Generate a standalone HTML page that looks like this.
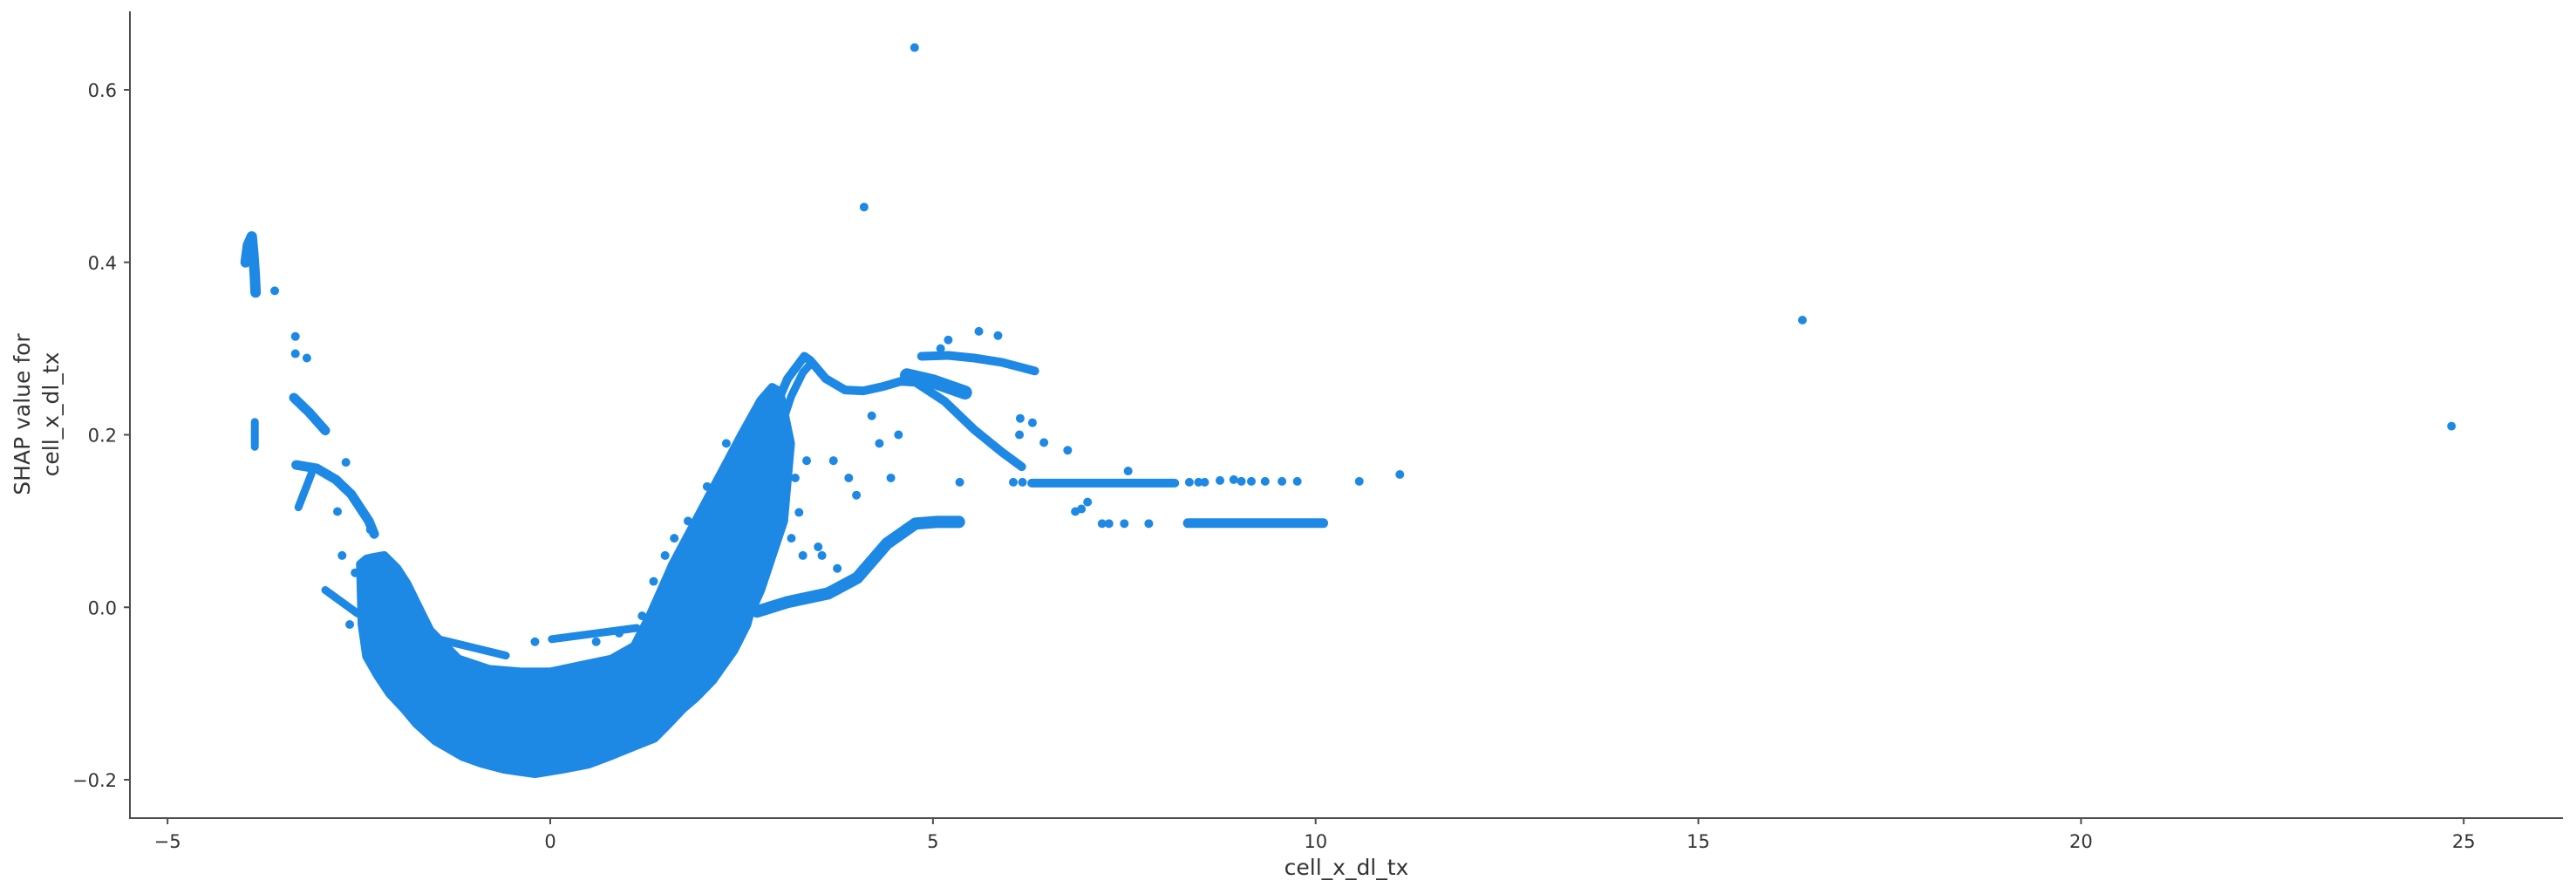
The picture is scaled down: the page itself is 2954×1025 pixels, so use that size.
<!DOCTYPE html>
<html><head><meta charset="utf-8"><style>
html,body{margin:0;padding:0;background:#fff}
svg{display:block}
text{font-family:"DejaVu Sans","Liberation Sans",sans-serif;fill:#333}
</style></head><body>
<svg id="chart" width="2954" height="1025" viewBox="0 0 2954 1025" xmlns="http://www.w3.org/2000/svg">
<g id="marks"></g>
<g id="axes"></g>
</svg>
<script>
// ---- data ----
const xTicks = [-5, 0, 5, 10, 15, 20, 25];
const yTicks = [-0.2, 0.0, 0.2, 0.4, 0.6];
const yTickLabels = ["\u22120.2", "0.0", "0.2", "0.4", "0.6"];
// dense core cloud outline (x, shap)
const cloudX = [-2.48,-2.4,-2.3,-2.17,-2.0,-1.87,-1.72,-1.57,-1.2,-0.8,-0.39,0.0,0.37,0.8,1.1,1.3,1.45,1.6,1.9,2.2,2.5,2.75,2.9,3.0,3.14,3.1,3.05,2.9,2.75,2.6,2.57,2.4,2.12,1.9,1.73,1.55,1.36,1.13,0.8,0.5,0.15,-0.2,-0.6,-0.9,-1.15,-1.5,-1.75,-1.91,-2.1,-2.25,-2.4,-2.46];
const cloudY = [0.05,0.056,0.058,0.06,0.045,0.027,0.0,-0.027,-0.06,-0.072,-0.075,-0.075,-0.068,-0.06,-0.045,-0.01,0.02,0.05,0.1,0.15,0.2,0.24,0.255,0.25,0.19,0.15,0.1,0.06,0.02,-0.01,-0.02,-0.05,-0.085,-0.105,-0.118,-0.135,-0.152,-0.16,-0.172,-0.182,-0.188,-0.193,-0.188,-0.181,-0.173,-0.155,-0.135,-0.118,-0.1,-0.08,-0.057,-0.02];
// thin curves
const peakX = [2.5,2.87,3.1,3.32,3.4,3.6,3.85,4.09,4.35,4.58,4.77,5.15,5.54,5.9,6.16];
const peakY = [0.12,0.218,0.265,0.291,0.286,0.265,0.252,0.251,0.256,0.262,0.261,0.239,0.206,0.18,0.163];
const loopX = [2.98,3.15,3.3,3.4];
const loopY = [0.2,0.245,0.272,0.282];
const upperX = [4.85,5.2,5.54,5.9,6.33];
const upperY = [0.291,0.292,0.289,0.284,0.274];
const clusterX = [4.66,5.0,5.42];
const clusterY = [0.269,0.262,0.249];
const sX = [2.7,3.1,3.63,4.01,4.4,4.77,5.05,5.34];
const sY = [-0.005,0.006,0.016,0.034,0.074,0.097,0.099,0.099];
const line145X = [6.29,8.16];
const line145Y = [0.144,0.144];
const line098X = [8.33,10.1];
const line098Y = [0.0975,0.0975];
const leftAX = [-3.35,-3.15,-2.94];
const leftAY = [0.243,0.226,0.205];
const leftBX = [-3.32,-3.05,-2.8,-2.6,-2.37,-2.3];
const leftBY = [0.165,0.161,0.148,0.131,0.1,0.085];
const leftCX = [-3.12,-3.29];
const leftCY = [0.155,0.116];
const leftDX = [-2.94,-2.52];
const leftDY = [0.02,-0.007];
const topClusterX = [-3.98,-3.95,-3.9,-3.88,-3.86,-3.85];
const topClusterY = [0.40,0.42,0.43,0.41,0.385,0.365];
const vertX = [-3.86,-3.86];
const vertY = [0.215,0.186];
const lowLine1X = [-1.6,-0.58];
const lowLine1Y = [-0.034,-0.056];
const lowLine2X = [0.02,1.13];
const lowLine2Y = [-0.037,-0.024];
// isolated points
const dotX = [4.76,4.1,16.36,24.84,11.1,10.57,-3.33,-3.33,-3.18,-2.67,-2.78,-3.6,6.05,6.17,8.35,8.47,8.55,8.75,8.93,9.03,9.16,9.34,9.56,9.76,7.21,7.3,7.5,7.82,6.86,6.94,7.02,7.55,6.14,6.3,6.13,6.45,6.76,4.3,4.55,3.7,3.9,4.0,4.45,5.2,5.6,5.85,4.2,3.55,3.75,5.1,5.35,
  1.35,1.5,1.62,1.8,2.05,2.3,3.2,3.25,3.35,3.15,3.3,3.5,-2.72,-2.55,-2.35,-2.62,-0.2,0.6,0.9,1.2];
const dotY = [0.649,0.464,0.333,0.21,0.154,0.146,0.314,0.294,0.289,0.168,0.111,0.367,0.145,0.145,0.145,0.145,0.145,0.147,0.148,0.146,0.146,0.146,0.146,0.146,0.097,0.097,0.097,0.097,0.111,0.114,0.122,0.158,0.219,0.214,0.2,0.191,0.182,0.19,0.2,0.17,0.15,0.13,0.15,0.31,0.32,0.315,0.222,0.06,0.045,0.30,0.145,
  0.03,0.06,0.08,0.1,0.14,0.19,0.15,0.11,0.17,0.08,0.06,0.07,0.06,0.04,0.09,-0.02,-0.04,-0.04,-0.03,-0.01];

// ---- axes mapping ----
const X0 = 631, XS = 87.77, Y0 = 696.25, YS = 988.75;
const sx = v => X0 + v * XS;
const sy = v => Y0 - v * YS;
const NS = "http://www.w3.org/2000/svg";
const COLOR = "#1E88E5";
const marks = document.getElementById('marks');
const axes = document.getElementById('axes');

function mk(tag, attrs, parent) {
  const e = document.createElementNS(NS, tag);
  for (const k in attrs) e.setAttribute(k, attrs[k]);
  parent.appendChild(e);
  return e;
}
function pts(xs, ys) { return xs.map((x, i) => sx(x).toFixed(1) + ',' + sy(ys[i]).toFixed(1)).join(' '); }

const cloud = mk('polygon', {points: pts(cloudX, cloudY), fill: COLOR, stroke: COLOR, 'stroke-width': 10, 'stroke-linejoin': 'round'}, marks);



const curves = [
  [peakX, peakY, 'peak-curve', 10], [loopX, loopY, 'loop-curve', 9], [upperX, upperY, 'upper-branch', 10],
  [clusterX, clusterY, 'cluster-branch', 16], [sX, sY, 's-curve', 14], [line145X, line145Y, 'line-0-145', 10],
  [line098X, line098Y, 'line-0-098', 11], [leftAX, leftAY, 'left-curve-a', 11], [leftBX, leftBY, 'left-curve-b', 11],
  [leftCX, leftCY, 'left-curve-c', 9], [leftDX, leftDY, 'left-curve-d', 9], [topClusterX, topClusterY, 'top-left-cluster', 12],
  [vertX, vertY, 'left-vertical-segment', 9], [lowLine1X, lowLine1Y, 'low-line-left', 9], [lowLine2X, lowLine2Y, 'low-line-right', 9]
];
curves.forEach(c => {
  const p = mk('polyline', {points: pts(c[0], c[1]), fill: 'none', stroke: COLOR, 'stroke-width': c[3], 'stroke-linecap': 'round', 'stroke-linejoin': 'round'}, marks);
  
  
});
dotX.forEach((x, i) => {
  const d = mk('circle', {cx: sx(x), cy: sy(dotY[i]), r: 5, fill: COLOR}, marks);
  
  
});

// spines
const ls = mk('line', {x1: 149, y1: 13, x2: 149, y2: 938, stroke: '#4d4d4d', 'stroke-width': 2}, axes);


const bs = mk('line', {x1: 148, y1: 938, x2: 2939, y2: 938, stroke: '#4d4d4d', 'stroke-width': 2}, axes);



xTicks.forEach(v => {
  const t = mk('line', {x1: sx(v), y1: 938, x2: sx(v), y2: 945, stroke: '#4d4d4d', 'stroke-width': 2}, axes);
  
  
  const l = mk('text', {x: sx(v), y: 972, 'text-anchor': 'middle', 'font-size': 21}, axes);
  l.textContent = v < 0 ? '\u2212' + Math.abs(v) : String(v);
  
  
});
yTicks.forEach((v, i) => {
  const t = mk('line', {x1: 142, y1: sy(v), x2: 149, y2: sy(v), stroke: '#4d4d4d', 'stroke-width': 2}, axes);
  
  
  const l = mk('text', {x: 134, y: sy(v) + 8, 'text-anchor': 'end', 'font-size': 21}, axes);
  l.textContent = yTickLabels[i];
  
  
});
const xt = mk('text', {x: 1544, y: 1003, 'text-anchor': 'middle', 'font-size': 25}, axes);
xt.textContent = 'cell_x_dl_tx';


const yt1 = mk('text', {x: 0, y: 0, 'text-anchor': 'middle', 'font-size': 25, transform: 'translate(34,475) rotate(-90)'}, axes);
yt1.textContent = 'SHAP value for';


const yt2 = mk('text', {x: 0, y: 0, 'text-anchor': 'middle', 'font-size': 25, transform: 'translate(67,475) rotate(-90)'}, axes);
yt2.textContent = 'cell_x_dl_tx';


</script>
</body></html>
